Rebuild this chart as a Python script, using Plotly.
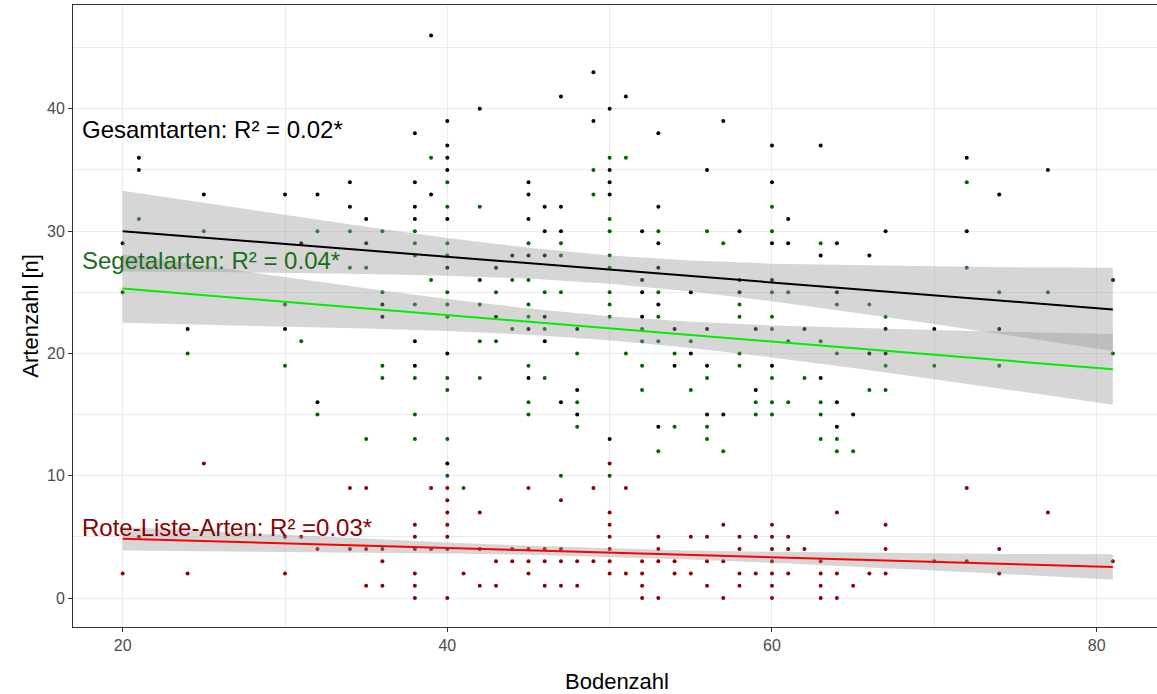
import plotly.graph_objects as go

# ---------------- data ----------------
# Gesamtarten (black points): Bodenzahl -> Artenzahl values
gesamt = {
    20: [29], 21: [36, 35], 24: [22], 25: [33], 30: [33, 22], 31: [29],
    32: [33, 16], 34: [34, 32], 35: [31, 29], 36: [24, 23],
    38: [38, 34, 32, 31, 21, 19], 39: [46, 33],
    40: [39, 37, 36, 35, 31, 27, 20, 11], 42: [40, 26], 43: [27, 23],
    44: [28], 45: [34, 33, 31, 28, 22, 18], 46: [32, 30, 28, 23, 21],
    47: [41, 32, 30, 16], 48: [22, 17, 15], 49: [43, 39],
    50: [40, 35, 34, 33, 13], 51: [41], 52: [30, 26, 25, 23],
    53: [38, 32, 29, 27, 24, 14], 54: [22, 19], 55: [25, 20],
    56: [35, 22, 19, 15], 57: [39, 15], 58: [30, 26, 25], 59: [22, 17],
    60: [37, 34, 29, 26, 19], 61: [31, 29], 62: [22], 63: [37, 28, 18],
    64: [29, 25, 16, 14], 65: [15], 66: [28, 20], 67: [30, 22, 20],
    70: [22], 72: [36, 30], 74: [33, 22], 77: [35], 81: [26],
}
# Segetalarten (dark green points)
segetal = {
    20: [25], 21: [31], 24: [20], 25: [30], 30: [24, 19], 31: [21],
    32: [30, 15], 34: [30, 27], 35: [27, 13], 36: [30, 25, 19, 18],
    38: [30, 29, 28, 24, 18, 15, 13], 39: [36, 26],
    40: [34, 32, 29, 28, 25, 24, 23, 18, 17, 13, 10], 41: [9],
    42: [32, 24, 21, 18], 43: [25, 21], 44: [26, 22],
    45: [29, 26, 24, 23, 19, 16, 15], 46: [25, 22, 18],
    47: [29, 28, 25, 10], 48: [20, 16, 14], 49: [35, 33],
    50: [36, 31, 30, 28, 27, 25, 24, 23, 10], 51: [36, 20],
    52: [22, 21, 19, 17], 53: [30, 25, 23, 21, 12], 54: [20, 14],
    55: [21, 17], 56: [30, 18, 14, 13], 57: [29, 12], 58: [24, 23, 20, 19],
    59: [16, 15], 60: [32, 30, 25, 23, 22, 18, 16, 15], 61: [25, 21, 16],
    62: [18], 63: [29, 21, 16, 15, 13], 64: [24, 20, 13, 12], 65: [12],
    66: [24, 17], 67: [23, 19, 17], 70: [19], 72: [34, 27], 74: [25, 19],
    77: [25], 81: [20],
}
# Rote-Liste-Arten (dark red points)
roteliste = {
    20: [2], 21: [5], 24: [2], 25: [11], 30: [5, 2], 31: [5], 32: [4],
    34: [9, 4], 35: [9, 4, 1], 36: [4, 3, 1], 38: [6, 5, 4, 2, 1, 0],
    39: [9, 4], 40: [9, 8, 7, 6, 5, 4, 0], 41: [2], 42: [7, 4, 1],
    43: [3, 1], 44: [4, 3], 45: [9, 4, 3, 2], 46: [4, 3, 1],
    47: [8, 4, 3, 1], 48: [3, 1], 49: [9, 3], 50: [11, 7, 6, 5, 4, 3, 2],
    51: [9, 2], 52: [3, 2, 1, 0], 53: [5, 4, 3, 0], 54: [3, 2], 55: [5, 2],
    56: [5, 3, 1], 57: [6, 3, 0], 58: [5, 4, 2, 1], 59: [5, 2],
    60: [6, 5, 4, 3, 2, 1, 0], 61: [5, 4, 2], 62: [4], 63: [3, 2, 1, 0],
    64: [7, 2, 0], 65: [1], 66: [2], 67: [6, 4, 2], 70: [3], 72: [9, 3],
    74: [4, 2], 77: [7], 81: [3],
}

# regression lines with 95% bands
fit_x = [20, 25, 30, 35, 40, 45, 50, 55, 60, 65, 70, 75, 81]
ges_fit = [30.00, 29.48, 28.95, 28.43, 27.90, 27.38, 26.85, 26.33, 25.80, 25.28, 24.76, 24.23, 23.60]
ges_hw = [3.30, 2.82, 2.36, 1.93, 1.54, 1.26, 1.15, 1.26, 1.54, 1.93, 2.36, 2.82, 3.40]
seg_fit = [25.30, 24.76, 24.22, 23.68, 23.14, 22.60, 22.06, 21.52, 20.98, 20.44, 19.90, 19.36, 18.70]
seg_hw = [2.80, 2.40, 2.01, 1.64, 1.31, 1.07, 0.98, 1.07, 1.31, 1.64, 2.01, 2.40, 2.89]
rl_fit = [4.85, 4.66, 4.47, 4.28, 4.09, 3.90, 3.71, 3.52, 3.33, 3.14, 2.95, 2.76, 2.54]
rl_hw = [0.96, 0.83, 0.69, 0.57, 0.45, 0.37, 0.34, 0.37, 0.45, 0.57, 0.69, 0.83, 1.04]

labels = ["Gesamtarten: R\u00b2 = 0.02*", "Segetalarten: R\u00b2 = 0.04*", "Rote-Liste-Arten: R\u00b2 =0.03*"]
label_y = [38.3, 27.6, 5.75]
x_ticks = [20, 40, 60, 80]
y_ticks = [0, 10, 20, 30, 40]

# ---------------- figure ----------------
FONT = "Liberation Sans, Arial, sans-serif"
fig = go.Figure()


def flatten(d):
    xs, ys = [], []
    for k, vals in d.items():
        for v in vals:
            xs.append(k)
            ys.append(v)
    return xs, ys


for d, col in [(gesamt, "#000000"), (segetal, "#006400"), (roteliste, "#8B0000")]:
    xs, ys = flatten(d)
    fig.add_trace(go.Scatter(x=xs, y=ys, mode="markers",
                             marker=dict(color=col, size=4, line=dict(width=0)),
                             showlegend=False, hoverinfo="skip"))

for fit, hw, col in [(ges_fit, ges_hw, "#000000"), (seg_fit, seg_hw, "#00EE00"), (rl_fit, rl_hw, "#FF0000")]:
    upper = [f + h for f, h in zip(fit, hw)]
    lower = [f - h for f, h in zip(fit, hw)]
    fig.add_trace(go.Scatter(x=fit_x + fit_x[::-1], y=upper + lower[::-1],
                             fill="toself", fillcolor="rgba(153,153,153,0.4)",
                             line=dict(width=0), mode="lines",
                             showlegend=False, hoverinfo="skip"))
    fig.add_trace(go.Scatter(x=fit_x, y=fit, mode="lines",
                             line=dict(color=col, width=2),
                             showlegend=False, hoverinfo="skip"))

for txt, yy, col in zip(labels, label_y, ["#000000", "#1a6e1a", "#8B0000"]):
    fig.add_annotation(x=17.35, y=yy, xref="x", yref="y", text=txt, showarrow=False,
                       xanchor="left", yanchor="middle",
                       font=dict(family=FONT, size=24, color=col))

fig.add_annotation(x=-0.04, y=0.5, xref="paper", yref="paper", text="Artenzahl [n]",
                   showarrow=False, textangle=-90, xanchor="center", yanchor="middle",
                   font=dict(family=FONT, size=22, color="#000000"))
fig.add_annotation(x=0.502, y=-0.088, xref="paper", yref="paper", text="Bodenzahl",
                   showarrow=False, xanchor="center", yanchor="middle",
                   font=dict(family=FONT, size=22, color="#000000"))

grid = "#EBEBEB"
fig.update_layout(
    width=1157, height=694,
    margin=dict(l=73, r=0, t=5, b=67),
    paper_bgcolor="white", plot_bgcolor="white",
    font=dict(family=FONT),
    xaxis=dict(range=[16.94, 83.72], tickvals=x_ticks, ticktext=[str(v) for v in x_ticks],
               automargin=False,
               showgrid=True, gridcolor=grid, gridwidth=1,
               minor=dict(dtick=10, tick0=0, showgrid=True, gridcolor=grid, gridwidth=0.6),
               zeroline=False, showline=True, linecolor="#333333", linewidth=1, mirror=True,
               ticks="outside", ticklen=4, tickcolor="#333333",
               tickfont=dict(family=FONT, size=16, color="#4D4D4D")),
    yaxis=dict(range=[-2.37, 48.49], tickvals=y_ticks, ticktext=[str(v) for v in y_ticks],
               automargin=False,
               showgrid=True, gridcolor=grid, gridwidth=1,
               minor=dict(dtick=5, tick0=0, showgrid=True, gridcolor=grid, gridwidth=0.6),
               zeroline=False, showline=True, linecolor="#333333", linewidth=1, mirror=False,
               ticks="outside", ticklen=4, tickcolor="#333333",
               tickfont=dict(family=FONT, size=16, color="#4D4D4D")),
)

fig.write_html("out.html", config={"displayModeBar": False},
               post_script="document.body.style.margin='0';document.body.style.overflow='hidden';")
